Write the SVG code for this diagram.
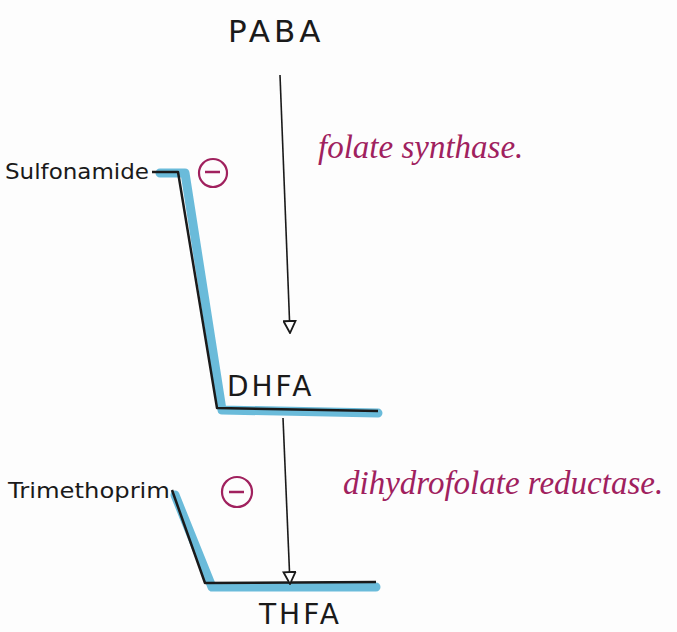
<svg xmlns="http://www.w3.org/2000/svg" width="677" height="632" viewBox="0 0 677 632">
<style>
.lbl{font-family:"DejaVu Sans","Liberation Sans",sans-serif;fill:#1a1a1a}
.enz{font-family:"Liberation Serif",serif;font-style:italic;fill:#a0215e}
.hl{fill:none;stroke:#5ab4d6;stroke-width:9;stroke-linejoin:round;stroke-linecap:round;opacity:0.9}
.ink{fill:none;stroke:#1a1a1a;stroke-width:2.5;stroke-linejoin:round}
.arr{fill:none;stroke:#1a1a1a;stroke-width:1.6}
.inh circle{fill:none;stroke:#a0215e;stroke-width:2.2}
.inh line{stroke:#a0215e;stroke-width:2.5}
</style>
<defs>
<marker id="tri" viewBox="0 0 14 14" refX="13" refY="7" markerWidth="14" markerHeight="14" orient="auto" markerUnits="userSpaceOnUse">
<path d="M1,1 L13,7 L1,13 Z" fill="#fff" stroke="#1a1a1a" stroke-width="1.8"/>
</marker>
</defs>
<rect width="677" height="632" fill="#fdfdfd"/>
<g id="connectors">
<path class="hl" d="M160,173 L185,173 L222,410 L378,413"/>
<path class="ink" d="M152,172 L178,172 L217,408 L378,411"/>
<path class="hl" d="M175,495 L212,587 L376,587"/>
<path class="ink" d="M172,490 L205,583 L376,582"/>
<line class="arr" x1="280" y1="75" x2="290" y2="333" marker-end="url(#tri)"/>
<line class="arr" x1="283" y1="418" x2="290" y2="584" marker-end="url(#tri)"/>
</g>
<g id="PABA"><text class="lbl" x="228" y="42" font-size="31" letter-spacing="4">PABA</text></g>
<g id="folate-synthase"><text class="enz" x="318" y="158" font-size="33">folate synthase.</text></g>
<g id="sulfonamide"><text class="lbl" x="5" y="179" font-size="22" textLength="144" lengthAdjust="spacingAndGlyphs">Sulfonamide</text></g>
<g id="inhibit1" class="inh"><circle cx="213" cy="173" r="14"/><line x1="205" y1="172" x2="220" y2="172"/></g>
<g id="DHFA"><text class="lbl" x="227" y="396" font-size="28" letter-spacing="3">DHFA</text></g>
<g id="dhfr"><text class="enz" x="343" y="494" font-size="33">dihydrofolate reductase.</text></g>
<g id="trimethoprim"><text class="lbl" x="8" y="498" font-size="22" textLength="162" lengthAdjust="spacingAndGlyphs">Trimethoprim</text></g>
<g id="inhibit2" class="inh"><circle cx="237" cy="492" r="15"/><line x1="229" y1="492" x2="244" y2="492"/></g>
<g id="THFA"><text class="lbl" x="259" y="624" font-size="28" letter-spacing="3">THFA</text></g>
</svg>
